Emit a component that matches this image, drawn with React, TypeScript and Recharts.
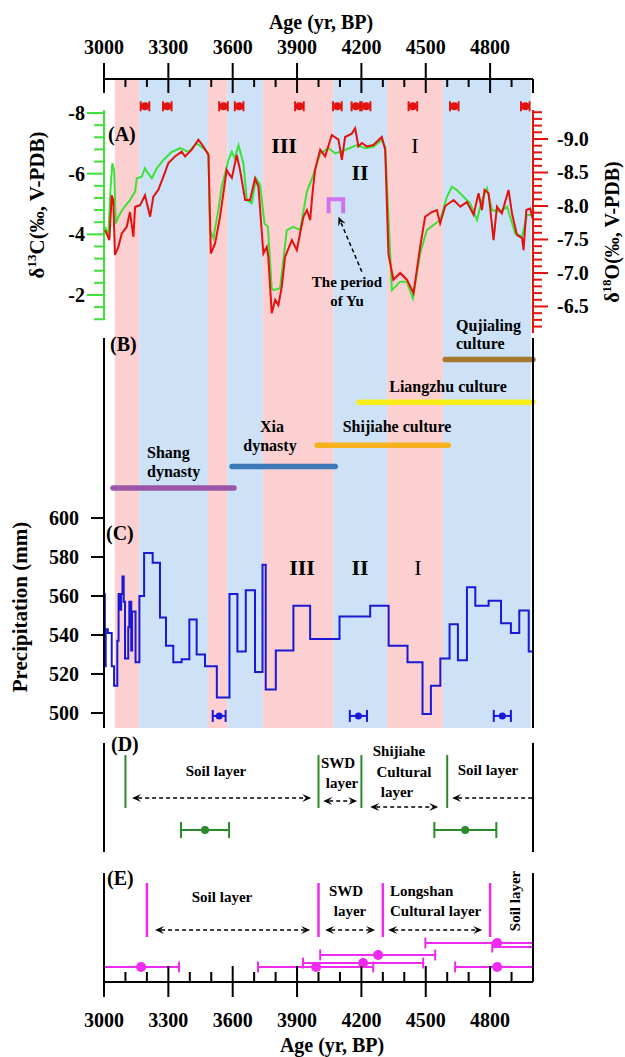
import React from 'react';
import {
  ComposedChart, Line, Scatter, XAxis, YAxis, ReferenceArea, ReferenceLine, ErrorBar, Customized,
} from 'recharts';

// ---------- data ----------
const yearTicks = [3000, 3100, 3200, 3300, 3400, 3500, 3600, 3700, 3800, 3900, 4000, 4100, 4200, 4300, 4400, 4500, 4600, 4700, 4800, 4900, 5000];
const yearLabels = [3000, 3300, 3600, 3900, 4200, 4500, 4800];

// dry (pink) / wet (blue) phases
const bands = [
  { from: 3050, to: 3165, kind: 'dry' },
  { from: 3165, to: 3485, kind: 'wet' },
  { from: 3485, to: 3575, kind: 'dry' },
  { from: 3575, to: 3740, kind: 'wet' },
  { from: 3740, to: 4070, kind: 'dry' },
  { from: 4070, to: 4320, kind: 'wet' },
  { from: 4320, to: 4580, kind: 'dry' },
  { from: 4580, to: 4990, kind: 'wet' },
];

const datingAges = [3191, 3295, 3557, 3630, 3911, 4088, 4174, 4222, 4440, 4633, 4964];

const d13C = [
  [3005, -4.25], [3020, -3.98], [3031, -5.57], [3039, -6.34], [3047, -6.12], [3055, -4.36], [3067, -4.58],
  [3090, -4.86], [3121, -5.13], [3145, -5.41], [3153, -5.85], [3176, -5.9], [3191, -6.18], [3207, -6.0],
  [3223, -5.85], [3246, -6.18], [3277, -6.45], [3316, -6.72], [3355, -6.84], [3393, -6.72], [3432, -7.0],
  [3463, -6.84], [3487, -6.67], [3494, -4.14], [3510, -3.87], [3533, -4.8], [3549, -5.57], [3580, -6.45],
  [3596, -6.72], [3610, -6.5], [3627, -6.94], [3650, -6.34], [3666, -5.13], [3689, -5.02], [3708, -5.85],
  [3728, -5.63], [3748, -4.36], [3764, -4.25], [3782, -2.22], [3790, -2.16], [3821, -2.22], [3852, -4.14],
  [3883, -4.25], [3914, -4.14], [3946, -5.41], [3976, -5.96], [4008, -6.67], [4046, -6.84], [4078, -6.67],
  [4124, -6.78], [4179, -6.94], [4218, -6.84], [4256, -6.89], [4295, -7.11], [4311, -6.89], [4342, -2.16],
  [4381, -2.44], [4412, -2.44], [4440, -1.89], [4474, -3.37], [4505, -4.14], [4536, -4.31], [4567, -4.47],
  [4599, -5.24], [4622, -5.57], [4645, -5.46], [4676, -5.24], [4707, -5.02], [4739, -4.47], [4762, -5.13],
  [4785, -5.52], [4809, -4.8], [4847, -4.75], [4879, -4.91], [4917, -4.03], [4949, -3.92], [4972, -4.64],
  [4995, -4.64],
];

const d18O = [
  [3005, -7.64], [3025, -7.49], [3036, -8.16], [3043, -8.09], [3051, -7.27], [3067, -7.39], [3083, -7.59],
  [3106, -7.69], [3121, -7.91], [3137, -7.54], [3145, -7.99], [3168, -8.01], [3191, -8.16], [3215, -7.84],
  [3230, -8.14], [3253, -8.24], [3277, -8.44], [3300, -8.64], [3331, -8.74], [3362, -8.81], [3378, -8.74],
  [3409, -8.84], [3440, -8.99], [3463, -8.89], [3487, -8.76], [3498, -7.29], [3518, -7.44], [3541, -7.84],
  [3572, -8.54], [3580, -8.49], [3596, -8.42], [3619, -8.76], [3634, -8.54], [3658, -8.09], [3681, -8.09],
  [3704, -8.41], [3720, -8.29], [3743, -7.29], [3759, -7.39], [3766, -7.24], [3782, -6.4], [3798, -6.6],
  [3813, -6.52], [3829, -6.8], [3844, -7.24], [3876, -7.49], [3899, -7.34], [3914, -7.59], [3930, -7.84],
  [3946, -7.94], [3961, -7.79], [3972, -8.19], [3984, -8.54], [4008, -8.84], [4031, -8.74], [4062, -9.06],
  [4093, -8.99], [4109, -8.69], [4124, -9.03], [4155, -9.08], [4171, -9.16], [4186, -8.89], [4202, -8.94],
  [4225, -8.89], [4256, -8.91], [4295, -9.03], [4311, -8.84], [4326, -7.29], [4349, -6.9], [4381, -7.0],
  [4412, -6.9], [4443, -6.7], [4474, -7.39], [4497, -7.84], [4529, -7.91], [4552, -7.94], [4567, -7.74],
  [4591, -8.0], [4630, -8.09], [4661, -7.99], [4692, -8.06], [4723, -7.87], [4746, -8.19], [4762, -7.94],
  [4774, -8.24], [4793, -8.19], [4816, -7.49], [4832, -7.99], [4855, -7.89], [4886, -8.24], [4902, -7.89],
  [4925, -7.57], [4949, -7.52], [4956, -7.34], [4969, -7.94], [4987, -7.96], [5000, -7.79],
];

const yuBracket = [[4047, -7.89], [4047, -8.1], [4115, -8.1], [4115, -7.89]];

const cultures = [
  { name: 'Qujialing', from: 4591, to: 5000, level: 6 },
  { name: 'Liangzhu', from: 4190, to: 5000, level: 4 },
  { name: 'Shijiahe', from: 3994, to: 4605, level: 2 },
  { name: 'Xia', from: 3597, to: 4078, level: 1 },
  { name: 'Shang', from: 3042, to: 3606, level: 0 },
];

const precip = [
  [3000, 561], [3004, 524], [3008, 543], [3018, 541], [3036, 524], [3047, 514], [3062, 537], [3068, 561],
  [3075, 553], [3080, 561], [3086, 570], [3092, 557], [3098, 528], [3113, 544], [3118, 557], [3127, 532],
  [3131, 552], [3147, 526], [3165, 560], [3187, 582], [3227, 577], [3261, 549], [3289, 534.5], [3323, 526],
  [3362, 527.5], [3398, 548], [3432, 530], [3471, 524], [3526, 508], [3585, 561], [3622, 531.5], [3661, 563],
  [3704, 521], [3739, 576], [3754, 512], [3801, 532], [3883, 555], [3961, 538], [4098, 549.5], [4241, 555],
  [4327, 534.5], [4415, 526], [4485, 499.5], [4524, 514], [4568, 528], [4611, 545.5], [4650, 527],
  [4692, 564.5], [4731, 555], [4793, 557.5], [4851, 546], [4897, 541], [4936, 552.5], [4980, 531.5], [5000, 531.5],
];
const precipDates = [
  { x: 3537, y: 498.5, err: [30, 30] },
  { x: 4186, y: 498.5, err: [40, 40] },
  { x: 4857, y: 498.5, err: [40, 40] },
];

const dBoundaries = [3100, 4000, 4200, 4600];
const dArrows = [
  { from: 3131, to: 3966, y: 4.95, start: true, end: true },
  { from: 4022, to: 4180, y: 4.68, start: true, end: true },
  { from: 4241, to: 4558, y: 4.13, start: true, end: true },
  { from: 4623, to: 5000, y: 4.95, start: true, end: false },
];
const dDates = [
  { x: 3471, y: 2.02, err: [112, 112] },
  { x: 4684, y: 2.02, err: [144, 145] },
];

const eBoundaries = [3200, 4000, 4300, 4800];
const eArrows = [
  { from: 3238, to: 3961, y: 4.77, start: true, end: true },
  { from: 4031, to: 4264, y: 4.77, start: true, end: true },
  { from: 4325, to: 4763, y: 4.77, start: true, end: true },
];
const eDates = [
  { x: 3173, y: 1.38, err: [193, 177] },
  { x: 3989, y: 1.38, err: [271, 266] },
  { x: 4208, y: 1.74, err: [280, 280] },
  { x: 4278, y: 2.48, err: [270, 266] },
  { x: 4833, y: 3.58, err: [335, 300] },
  { x: 5150, y: 3.21, err: [340, 100] },
  { x: 4833, y: 1.38, err: [196, 300] },
];

const greenTicks = [-8, -7.6, -7.2, -6.8, -6.4, -6, -5.6, -5.2, -4.8, -4.4, -4, -3.6, -3.2, -2.8, -2.4, -2, -1.6, -1.2];
const greenLabels = [-8, -6, -4, -2];
const redTicks = [-9.4, -9.3, -9.2, -9.1, -9, -8.9, -8.8, -8.7, -8.6, -8.5, -8.4, -8.3, -8.2, -8.1, -8, -7.9, -7.8,
  -7.7, -7.6, -7.5, -7.4, -7.3, -7.2, -7.1, -7, -6.9, -6.8, -6.7, -6.6, -6.5, -6.4, -6.3, -6.2];
const redLabels = [-9, -8.5, -8, -7.5, -7, -6.5];
const precipTicks = [500, 520, 540, 560, 580, 600];

// ---------- styles ----------
const W = 625;
const X0 = 3000;
const X1 = 5000;
const FONT = '"Liberation Serif", "Times New Roman", serif';
const PINK = '#fcd0d0';
const SKY = '#cde1f7';
const GREEN = '#3fe03a';
const RED = '#e3120f';
const BLUE = '#1a1ad6';
const DGREEN = '#2a8a2a';
const MAGENTA = '#ee2bee';
const YU = '#cf74f0';
const cultureColor: Record<string, string> = {
  Qujialing: '#a67a2d', Liangzhu: '#f8ee16', Shijiahe: '#f5b21e', Xia: '#3d79b6', Shang: '#9a56a8',
};

// plot area spans x = 104..533 in every chart; axis widths are taken out of the margins
const AX = 60;
const margin = (top: number, bottom: number, leftAxis: boolean, rightAxis: boolean) => ({
  top, bottom, left: leftAxis ? 104 - AX : 104, right: rightAxis ? 92 - AX : 92,
});

const pts = (arr: number[][]) => arr.map(([x, y]) => ({ x, y }));
const near = (list: number[], v: number) => list.some((l) => Math.abs(l - v) < 1e-6);
const clampX = (v: number) => Math.min(X1, Math.max(X0, v));

const Box = ({ top, height, children }: any) => (
  <div style={{ position: 'absolute', left: 0, top, width: W, height }}>{children}</div>
);

const numStyle = { fontFamily: FONT, fontWeight: 'bold' as const, fontSize: 20, fill: '#000' };

const TopTick = (p: any) => {
  const v = p.payload.value;
  const major = near(yearLabels, v);
  return (
    <g>
      <line x1={p.x} x2={p.x} y1={major ? p.y - 16 : p.y} y2={major || v === X1 ? p.y + 14 : p.y + 8} stroke="#000" strokeWidth={2} />
      {major && <text x={p.x} y={p.y - 25} textAnchor="middle" {...numStyle}>{v}</text>}
    </g>
  );
};

const BottomTick = (p: any) => {
  const v = p.payload.value;
  const major = near(yearLabels, v);
  return (
    <g>
      <line x1={p.x} x2={p.x} y1={major ? p.y - 16 : p.y - 10} y2={major ? p.y + 15 : p.y} stroke="#000" strokeWidth={2} />
      {major && <text x={p.x} y={p.y + 45} textAnchor="middle" {...numStyle}>{v}</text>}
    </g>
  );
};

const GreenTick = (p: any) => {
  const v = p.payload.value;
  const major = near(greenLabels, v);
  return (
    <g>
      <line x1={p.x - (major ? 17 : 10)} x2={p.x} y1={p.y} y2={p.y} stroke={GREEN} strokeWidth={2} />
      {major && <text x={p.x - 19} y={p.y} dy="0.35em" textAnchor="end" {...numStyle}>{v}</text>}
    </g>
  );
};

const RedTick = (p: any) => {
  const v = p.payload.value;
  const major = near(redLabels, v);
  return (
    <g>
      <line x1={p.x} x2={p.x + (major ? 15 : 9)} y1={p.y} y2={p.y} stroke={RED} strokeWidth={2} />
      {major && <text x={p.x + 24} y={p.y} dy="0.35em" textAnchor="start" {...numStyle}>{v.toFixed(1)}</text>}
    </g>
  );
};

const PrecipTick = (p: any) => (
  <g>
    <line x1={p.x - 13} x2={p.x} y1={p.y} y2={p.y} stroke="#000" strokeWidth={2} />
    <text x={p.x - 25} y={p.y} dy="0.35em" textAnchor="end" {...numStyle}>{p.payload.value}</text>
  </g>
);

const arrowShape = (start: boolean, end: boolean, color = '#000') => (p: any) => {
  const { x1, y1, x2, y2 } = p;
  const dx = x2 - x1;
  const dy = y2 - y1;
  const len = Math.hypot(dx, dy) || 1;
  const ux = dx / len;
  const uy = dy / len;
  const head = (hx: number, hy: number, dirx: number, diry: number) => {
    const L = 9;
    const Wd = 4;
    const bx = hx - dirx * L;
    const by = hy - diry * L;
    const nx = -diry;
    const ny = dirx;
    const ix = hx - dirx * L * 0.6;
    const iy = hy - diry * L * 0.6;
    return (
      <polygon
        points={`${hx},${hy} ${bx + nx * Wd},${by + ny * Wd} ${ix},${iy} ${bx - nx * Wd},${by - ny * Wd}`}
        fill={color}
      />
    );
  };
  const sx = start ? x1 + ux * 6 : x1;
  const sy = start ? y1 + uy * 6 : y1;
  const ex = end ? x2 - ux * 6 : x2;
  const ey = end ? y2 - uy * 6 : y2;
  return (
    <g>
      <line x1={sx} y1={sy} x2={ex} y2={ey} stroke={color} strokeWidth={1.5} strokeDasharray="4 3" />
      {start && head(x1, y1, -ux, -uy)}
      {end && head(x2, y2, ux, uy)}
    </g>
  );
};

const hiddenX = <XAxis type="number" dataKey="x" domain={[X0, X1]} allowDataOverflow hide />;
const frameAxis = (id: any, orientation: 'left' | 'right', domain: number[]) => (
  <YAxis yAxisId={id} type="number" dataKey="y" orientation={orientation} width={AX} domain={domain}
    tick={false} tickLine={false} axisLine={{ stroke: '#000', strokeWidth: 2 }} />
);

const dot = (r: number, color: string) => (p: any) => <circle cx={p.cx} cy={p.cy} r={r} fill={color} />;

const T = { fontFamily: FONT, fontWeight: 'bold' as const, fill: '#000' };

const Annotations = () => (
  <g>
    <text x={321} y={29} textAnchor="middle" fontSize={20} {...T}>Age (yr, BP)</text>
    <text x={332} y={1052} textAnchor="middle" fontSize={20} {...T}>Age (yr, BP)</text>

    {/* panel A */}
    <text x={108} y={141} fontSize={20} {...T}>(A)</text>
    <text transform="translate(44,205) rotate(-90)" textAnchor="middle" fontSize={21} {...T}>
      δ<tspan dy={-8} fontSize={13}>13</tspan><tspan dy={8}>C(‰, V-PDB)</tspan>
    </text>
    <text transform="translate(619,232) rotate(-90)" textAnchor="middle" fontSize={20} {...T}>
      δ<tspan dy={-8} fontSize={13}>18</tspan><tspan dy={8}>O(‰, V-PDB)</tspan>
    </text>
    <text x={284} y={153} textAnchor="middle" fontSize={22} {...T}>III</text>
    <text x={360} y={180} textAnchor="middle" fontSize={22} {...T}>II</text>
    <text x={415} y={153} textAnchor="middle" fontSize={22} {...T} fontWeight="normal">I</text>
    <text x={347} y={287} textAnchor="middle" fontSize={15} {...T}>The period</text>
    <text x={347} y={306} textAnchor="middle" fontSize={15} {...T}>of Yu</text>

    {/* panel B */}
    <text x={110} y={351} fontSize={20} {...T}>(B)</text>
    <text x={456} y={331} fontSize={16} {...T}>Qujialing</text>
    <text x={456} y={349} fontSize={16} {...T}>culture</text>
    <text x={448} y={392} textAnchor="middle" fontSize={16} {...T}>Liangzhu culture</text>
    <text x={397} y={432} textAnchor="middle" fontSize={16} {...T}>Shijiahe culture</text>
    <text x={272} y={432} textAnchor="middle" fontSize={16} {...T}>Xia</text>
    <text x={270} y={451} textAnchor="middle" fontSize={16} {...T}>dynasty</text>
    <text x={147} y={458} fontSize={16} {...T}>Shang</text>
    <text x={147} y={477} fontSize={16} {...T}>dynasty</text>

    {/* panel C */}
    <text x={106} y={540} fontSize={20} {...T}>(C)</text>
    <text transform="translate(27,607) rotate(-90)" textAnchor="middle" fontSize={21} {...T}>Precipitation (mm)</text>
    <text x={302} y={575} textAnchor="middle" fontSize={22} {...T}>III</text>
    <text x={360} y={575} textAnchor="middle" fontSize={22} {...T}>II</text>
    <text x={418} y={575} textAnchor="middle" fontSize={22} {...T} fontWeight="normal">I</text>

    {/* panel D */}
    <text x={111} y={751} fontSize={20} {...T}>(D)</text>
    <text x={216} y={776} textAnchor="middle" fontSize={15} {...T}>Soil layer</text>
    <text x={338} y={768} textAnchor="middle" fontSize={15} {...T}>SWD</text>
    <text x={342} y={788} textAnchor="middle" fontSize={15} {...T}>layer</text>
    <text x={399} y={756} textAnchor="middle" fontSize={15} {...T}>Shijiahe</text>
    <text x={404} y={777} textAnchor="middle" fontSize={15} {...T}>Cultural</text>
    <text x={397} y={797} textAnchor="middle" fontSize={15} {...T}>layer</text>
    <text x={488} y={775} textAnchor="middle" fontSize={15} {...T}>Soil layer</text>

    {/* panel E */}
    <text x={107} y={885} fontSize={20} {...T}>(E)</text>
    <text x={222} y={902} textAnchor="middle" fontSize={15} {...T}>Soil layer</text>
    <text x={346} y={896} textAnchor="middle" fontSize={15} {...T}>SWD</text>
    <text x={350} y={916} textAnchor="middle" fontSize={15} {...T}>layer</text>
    <text x={390} y={896} fontSize={15} {...T}>Longshan</text>
    <text x={390} y={916} fontSize={15} {...T}>Cultural layer</text>
    <text transform="translate(520,901) rotate(-90)" textAnchor="middle" fontSize={15} {...T}>Soil layer</text>
  </g>
);

// panel E error bars drawn as reference segments so they stop at the frame
const E_CAP = 0.5;
const eBarLines = eDates.flatMap((d, i) => {
  const lo = d.x - d.err[0];
  const hi = d.x + d.err[1];
  const out = [
    <ReferenceLine key={`e${i}`} segment={[{ x: clampX(lo), y: d.y }, { x: clampX(hi), y: d.y }]} stroke={MAGENTA} strokeWidth={2} />,
  ];
  if (lo >= X0) out.push(<ReferenceLine key={`el${i}`} segment={[{ x: lo, y: d.y - E_CAP }, { x: lo, y: d.y + E_CAP }]} stroke={MAGENTA} strokeWidth={2} />);
  if (hi <= X1) out.push(<ReferenceLine key={`eh${i}`} segment={[{ x: hi, y: d.y - E_CAP }, { x: hi, y: d.y + E_CAP }]} stroke={MAGENTA} strokeWidth={2} />);
  return out;
});

export default function App() {
  return (
    <div style={{ position: 'absolute', left: 0, top: 0, width: W, height: 1057, background: '#fff', overflow: 'hidden' }}>
      {/* background phases + dating marks */}
      <Box top={0} height={740}>
        <ComposedChart width={W} height={740} margin={margin(79, 12, false, false)}>
          {hiddenX}
          <YAxis type="number" dataKey="y" domain={[0, 100]} allowDataOverflow hide />
          {bands.map((b) => (
            <ReferenceArea key={b.from} x1={b.from} x2={b.to} fill={b.kind === 'dry' ? PINK : SKY} fillOpacity={1} stroke="none" ifOverflow="visible" />
          ))}
          <Scatter data={datingAges.map((x) => ({ x, y: 95.8, err: [20, 20] }))} dataKey="y" isAnimationActive={false} shape={dot(4, RED)}>
            <ErrorBar dataKey="err" direction="x" width={5} stroke={RED} strokeWidth={2} isAnimationActive={false} />
          </Scatter>
        </ComposedChart>
      </Box>

      {/* top age axis */}
      <Box top={0} height={100}>
        <ComposedChart width={W} height={100} margin={margin(49, 0, false, false)}>
          <XAxis type="number" dataKey="x" orientation="top" height={30} domain={[X0, X1]} allowDataOverflow
            ticks={yearTicks} interval={0} tickSize={0} tickMargin={0} tickLine={false}
            axisLine={{ stroke: '#000', strokeWidth: 2 }} tick={TopTick} />
          <YAxis type="number" dataKey="y" domain={[0, 1]} hide />
        </ComposedChart>
      </Box>

      {/* panel A: d13C */}
      <Box top={100} height={230}>
        <ComposedChart width={W} height={230} margin={margin(10, 10, true, false)}>
          {hiddenX}
          <YAxis type="number" dataKey="y" width={AX} domain={[-8.1, -1.175]} reversed allowDataOverflow
            ticks={greenTicks} interval={0} tickSize={0} tickMargin={0} tickLine={false}
            axisLine={{ stroke: GREEN, strokeWidth: 2 }} tick={GreenTick} />
          <Line data={pts(d13C)} dataKey="y" type="linear" stroke={GREEN} strokeWidth={2} dot={false} isAnimationActive={false} />
        </ComposedChart>
      </Box>

      {/* panel A: d18O */}
      <Box top={100} height={243}>
        <ComposedChart width={W} height={243} margin={margin(10, 10, false, true)}>
          {hiddenX}
          <YAxis type="number" dataKey="y" orientation="right" width={AX} domain={[-9.433, -6.104]} reversed allowDataOverflow
            ticks={redTicks} interval={0} tickSize={0} tickMargin={0} tickLine={false}
            axisLine={{ stroke: RED, strokeWidth: 2 }} tick={RedTick} />
          <Line data={pts(d18O)} dataKey="y" type="linear" stroke={RED} strokeWidth={2} dot={false} isAnimationActive={false} />
          <Line data={pts(yuBracket)} dataKey="y" type="linear" stroke={YU} strokeWidth={4} dot={false} isAnimationActive={false} />
          <ReferenceLine segment={[{ x: 4202, y: -7.02 }, { x: 4093, y: -7.84 }]} shape={arrowShape(false, true)} ifOverflow="visible" />
        </ComposedChart>
      </Box>

      {/* panel B: cultures */}
      <Box top={328} height={200}>
        <ComposedChart width={W} height={200} margin={margin(10, 10, false, false)}>
          <XAxis type="number" dataKey="x" domain={[X0, X1]} hide />
          <YAxis type="number" dataKey="y" domain={[-1.4, 7]} hide />
          {cultures.map((c) => (
            <Line key={c.name} data={[{ x: c.from, y: c.level }, { x: c.to, y: c.level }]} dataKey="y" type="linear"
              stroke={cultureColor[c.name]} strokeWidth={5.5} strokeLinecap="round" dot={false} isAnimationActive={false} />
          ))}
        </ComposedChart>
      </Box>

      {/* panel C: precipitation (its axes also frame panel B) */}
      <Box top={328} height={410}>
        <ComposedChart width={W} height={410} margin={margin(10, 10, true, true)}>
          {hiddenX}
          <YAxis type="number" dataKey="y" width={AX} domain={[492.3, 692.3]} allowDataOverflow
            ticks={precipTicks} interval={0} tickSize={0} tickMargin={0} tickLine={false}
            axisLine={{ stroke: '#000', strokeWidth: 2 }} tick={PrecipTick} />
          {frameAxis('r', 'right', [492.3, 692.3])}
          <Line data={pts(precip)} dataKey="y" type="stepAfter" stroke={BLUE} strokeWidth={2} dot={false} isAnimationActive={false} />
          <Scatter data={precipDates} dataKey="y" isAnimationActive={false} shape={dot(3.5, BLUE)}>
            <ErrorBar dataKey="err" direction="x" width={6} stroke={BLUE} strokeWidth={2} isAnimationActive={false} />
          </Scatter>
        </ComposedChart>
      </Box>

      {/* panel D */}
      <Box top={733} height={129}>
        <ComposedChart width={W} height={129} margin={margin(10, 10, true, true)}>
          {hiddenX}
          {frameAxis(0, 'left', [0, 10])}
          {frameAxis('r', 'right', [0, 10])}
          {dBoundaries.map((x) => (
            <ReferenceLine key={x} segment={[{ x, y: 4.04 }, { x, y: 8.9 }]} stroke={DGREEN} strokeWidth={2} />
          ))}
          {dArrows.map((a) => (
            <ReferenceLine key={a.from} segment={[{ x: a.from, y: a.y }, { x: a.to, y: a.y }]} shape={arrowShape(a.start, a.end)} ifOverflow="visible" />
          ))}
          <Scatter data={dDates} dataKey="y" isAnimationActive={false} shape={dot(4, DGREEN)}>
            <ErrorBar dataKey="err" direction="x" width={8} stroke={DGREEN} strokeWidth={2} isAnimationActive={false} />
          </Scatter>
        </ComposedChart>
      </Box>

      {/* panel E with bottom age axis */}
      <Box top={863} height={194}>
        <ComposedChart width={W} height={194} margin={margin(10, 45, true, true)}>
          <XAxis type="number" dataKey="x" orientation="bottom" height={30} domain={[X0, X1]} allowDataOverflow
            ticks={yearTicks} interval={0} tickSize={0} tickMargin={0} tickLine={false}
            axisLine={{ stroke: '#000', strokeWidth: 2 }} tick={BottomTick} />
          {frameAxis(0, 'left', [0, 10])}
          {frameAxis('r', 'right', [0, 10])}
          {eBoundaries.map((x) => (
            <ReferenceLine key={x} segment={[{ x, y: 4.13 }, { x, y: 9.08 }]} stroke={MAGENTA} strokeWidth={2.5} />
          ))}
          {eArrows.map((a) => (
            <ReferenceLine key={a.from} segment={[{ x: a.from, y: a.y }, { x: a.to, y: a.y }]} shape={arrowShape(a.start, a.end)} ifOverflow="visible" />
          ))}
          {eBarLines}
          <Scatter data={eDates} dataKey="y" isAnimationActive={false} shape={dot(5, MAGENTA)} />
        </ComposedChart>
      </Box>

      {/* text annotations */}
      <Box top={0} height={1057}>
        <ComposedChart width={W} height={1057} margin={{ top: 0, bottom: 0, left: 0, right: 0 }}>
          <Customized component={<Annotations />} />
        </ComposedChart>
      </Box>
    </div>
  );
}
